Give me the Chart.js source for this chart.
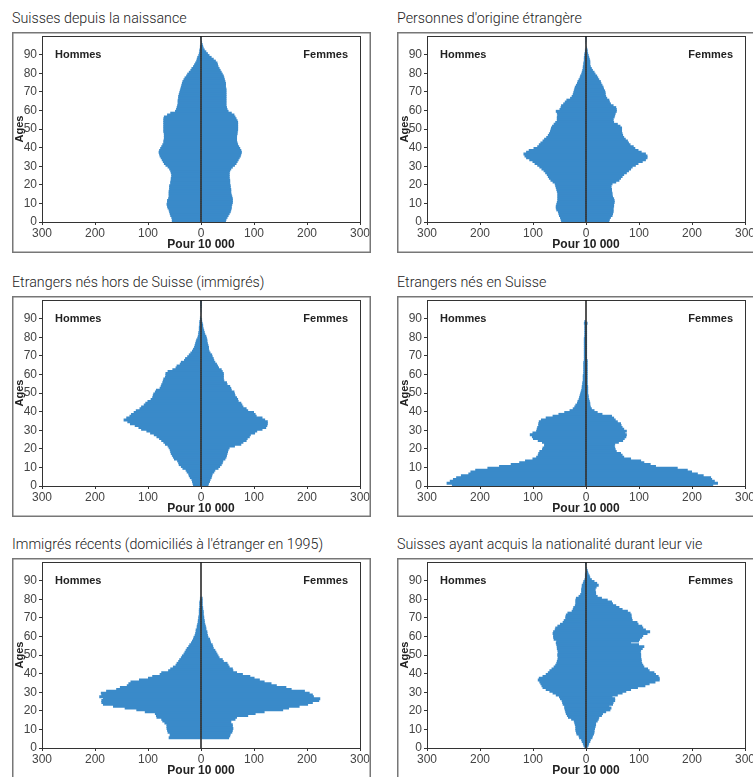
<!DOCTYPE html>
<html><head><meta charset="utf-8">
<script src="https://cdn.jsdelivr.net/npm/chart.js@4.4.1/dist/chart.umd.min.js"></script>
<style>
html,body{margin:0;padding:0;background:#fff;}
body{width:753px;height:777px;overflow:hidden;position:relative;}
.title{position:absolute;font-family:Roboto,"Liberation Sans",sans-serif;font-weight:300;font-size:15.5px;color:#222;white-space:nowrap;line-height:17px;transform:scaleX(0.92);transform-origin:0 0;}
canvas{position:absolute;}
</style></head><body>
<script>
const titles = [
  "Suisses depuis la naissance",
  "Personnes d'origine étrangère",
  "Etrangers nés hors de Suisse (immigrés)",
  "Etrangers nés en Suisse",
  "Immigrés récents (domiciliés à l'étranger en 1995)",
  "Suisses ayant acquis la nationalité durant leur vie"
];
const ages = [0,1,2,3,4,5,6,7,8,9,10,11,12,13,14,15,16,17,18,19,20,21,22,23,24,25,26,27,28,29,30,31,32,33,34,35,36,37,38,39,40,41,42,43,44,45,46,47,48,49,50,51,52,53,54,55,56,57,58,59,60,61,62,63,64,65,66,67,68,69,70,71,72,73,74,75,76,77,78,79,80,81,82,83,84,85,86,87,88,89,90,91,92,93,94,95,96,97,98,99];
const xTickLabels = ["300","200","100","0","100","200","300"];
const sexLabels = ["Hommes","Femmes"];

// Suisses depuis la naissance
const p1Men = [55,55,56,58,59,60,61,63,64,65,64,64,62,61,61,61,61,60,60,60,58,58,57,57,56,56,57,58,60,63,67,70,72,74,76,78,79,80,79,77,75,73,71,71,70,70,70,70,71,71,71,71,71,71,71,71,70,64,58,49,47,46,45,44,44,44,43,43,42,41,40,39,38,37,36,35,33,31,28,26,23,20,18,15,13,11,9,8,7,5,4,3,3,2,2,1,1,1,0.5,0.3];
const p1Women = [47,48,50,52,54,56,57,58,58,59,60,60,60,59,58,57,57,57,56,56,55,55,55,54,54,54,54,55,57,60,64,67,69,71,73,75,76,77,76,74,72,70,69,68,68,68,68,69,69,70,70,70,70,70,69,67,65,63,58,52,50,49,48,48,48,48,48,48,48,48,48,48,47,47,47,46,45,44,43,41,39,37,35,33,32,31,28,24,20,16,13,10,7,5,4,3,2,1.5,1,0.5];
// Personnes d'origine étrangère
const p2Men = [47,48,49,51,52,53,56,57,57,56,55,54,54,54,54,54,55,56,57,58,59,63,67,70,72,74,77,80,84,88,92,97,101,107,113,116,118,113,108,99,92,89,86,82,79,75,72,70,68,67,66,64,61,58,55,55,55,54,55,57,50,48,47,43,40,37,30,27,25,24,23,22,21,19,17,16,14,12,11,9,8,7,6,6,5,5,4,4,4,3,3,2,2,1,1,1,0.5,0.5,0.3,0.2];
const p2Women = [44,45,47,50,51,52,52,52,53,53,54,54,53,51,50,50,49,49,48,48,50,57,63,66,69,72,77,81,85,88,94,99,107,113,116,116,113,105,99,93,90,84,81,79,75,72,70,69,68,68,68,65,60,53,52,52,54,55,56,58,58,57,52,47,45,44,40,38,37,37,36,34,33,31,29,28,25,23,21,18,16,13,11,9,8,8,8,7,6,5,4,3,3,2,1,1,1,0.5,0.5,0.3];
// Etrangers nés hors de Suisse (immigrés)
const p3Men = [15,16,17,18,21,23,24,27,29,35,38,42,43,45,51,53,55,57,58,59,61,63,68,71,75,79,84,89,96,103,113,118,125,134,139,146,141,135,132,127,123,116,113,108,105,101,95,92,91,90,87,85,78,76,75,73,72,71,68,67,67,63,54,48,46,40,38,32,30,26,23,20,17,15,13,12,11,10,9,7,6,5,5,4,4,4,3,3,3,2,2,1,1,1,0.5,0.5,0.3,0.2,0.1,0.1];
const p3Women = [14,15,17,18,20,21,22,25,27,33,36,39,41,42,46,48,49,50,51,52,54,64,76,80,86,88,92,94,102,106,116,123,125,126,126,121,116,105,103,100,89,86,80,78,76,71,70,68,65,64,63,58,57,55,50,49,44,43,43,43,43,41,39,34,32,30,27,25,24,22,21,18,16,15,15,14,13,12,12,11,10,8,7,6,5,4,4,3,2,2,1,1,1,0.5,0.5,0.3,0.2,0.1,0.1,0.1];
// Etrangers nés en Suisse
const p4Men = [253,263,257,251,245,236,222,218,209,186,164,142,126,115,101,94,91,90,88,83,82,79,79,83,91,100,102,106,101,94,93,92,90,90,89,85,76,63,52,41,31,25,22,20,17,16,14,13,12,11,10,9,8,8,7,7,6,6,6,6,5,5,5,5,5,5,5,4,4,4,4,4,4,4,4,4,4,4,4,4,3,3,3,3,3,3,3,4,3,1,0,0,0,0,0,0,0,0,0,0];
const p4Women = [240,249,243,238,236,222,211,200,192,173,132,122,110,104,85,72,69,66,58,56,55,54,55,62,70,73,76,77,74,77,72,69,67,66,60,56,53,49,31,22,16,11,9,8,8,7,6,5,5,4,4,4,4,4,3,3,3,3,3,3,3,3,3,3,3,3,3,3,2,2,2,2,2,2,2,2,2,2,2,2,2,2,2,2,2,2,2,3,1,0,0,0,0,0,0,0,0,0,0,0];
// Immigrés récents (domiciliés à l'étranger en 1995)
const p5Men = [0,0,0,0,0,61,59,59,63,64,65,65,65,69,73,75,84,85,87,106,122,144,166,185,188,188,185,192,188,189,179,160,153,140,137,133,117,100,92,78,75,62,58,53,48,46,43,41,38,36,33,31,29,27,24,22,19,17,15,14,12,11,10,10,8,8,7,6,6,5,5,4,4,4,4,3,3,3,3,2,2,0,0,0,0,0,0,0,0,0,0,0,0,0,0,0,0,0,0,0];
const p5Women = [0,0,0,0,0,53,55,56,59,60,61,60,60,57,57,65,68,89,103,120,155,166,186,202,211,223,225,213,211,205,196,171,161,143,133,120,111,101,93,79,68,61,60,54,52,50,43,41,35,33,31,29,27,24,23,22,19,18,17,14,13,12,12,10,10,9,8,7,7,6,6,5,5,5,4,4,3,3,3,3,3,0,0,0,0,0,0,0,0,0,0,0,0,0,0,0,0,0,0,0];
// Suisses ayant acquis la nationalité durant leur vie
const p6Men = [3,5,6,8,9,13,14,18,19,20,20,20,21,22,23,28,34,36,38,39,40,41,41,44,45,46,49,51,57,63,69,76,82,84,86,88,91,89,82,76,72,69,65,61,58,56,55,54,53,54,54,53,54,55,55,56,57,56,61,62,62,63,62,59,58,54,49,44,42,39,39,38,35,27,25,24,21,20,20,20,19,14,11,9,9,9,8,8,6,5,3,2,2,2,1,1,0.5,0.5,0.2,0.1];
const p6Women = [3,5,6,8,9,12,13,15,16,16,17,18,19,19,22,24,25,30,32,38,46,48,44,51,52,55,55,50,60,69,76,85,98,112,120,131,139,139,137,132,129,120,117,110,108,106,105,105,104,104,104,103,104,107,110,100,85,100,102,106,108,116,121,113,108,106,99,97,88,87,86,86,84,79,69,63,57,51,49,41,30,22,19,19,18,18,20,24,21,16,11,8,7,5,4,3,2,1,1,0.5];

const menSeries = [p1Men,p2Men,p3Men,p4Men,p5Men,p6Men];
const womenSeries = [p1Women,p2Women,p3Women,p4Women,p5Women,p6Women];

const BLUE = "#3a8ac9";
const TICKF = "'Liberation Sans',Arial,sans-serif";
const BOLD = "'Liberation Sans',Arial,sans-serif";
const colX = [12, 397];
const rowY = [32, 296, 558];
const BOX_W = 359, BOX_H = 221;

const framePlugin = {
  id: 'frame',
  afterDraw(chart) {
    const {ctx, chartArea: a, scales} = chart;
    ctx.save();
    ctx.strokeStyle = '#777';
    ctx.lineWidth = 1.5;
    ctx.strokeRect(0.75, 0.75, chart.width - 1.5, chart.height - 1.5);
    ctx.strokeStyle = '#333';
    ctx.lineWidth = 1;
    ctx.strokeRect(Math.round(a.left) + 0.5, Math.round(a.top) + 0.5, Math.round(a.right - a.left), Math.round(a.bottom - a.top));
    const x0 = scales.x.getPixelForValue(0);
    ctx.strokeStyle = '#1b1b1b';
    ctx.lineWidth = 1.5;
    ctx.beginPath();
    ctx.moveTo(x0, a.top);
    ctx.lineTo(x0, a.bottom);
    ctx.stroke();
    const y90 = scales.y.getPixelForValue(90);
    ctx.fillStyle = '#222';
    ctx.font = "bold 11px " + BOLD;
    ctx.textBaseline = 'middle';
    ctx.textAlign = 'left';
    ctx.fillText(sexLabels[0], a.left + 13, y90);
    ctx.textAlign = 'right';
    ctx.fillText(sexLabels[1], a.right - 12, y90);
    ctx.restore();
  }
};

Chart.defaults.font.family = TICKF;

for (let i = 0; i < 6; i++) {
  const left = colX[i % 2], top = rowY[Math.floor(i / 2)];
  const t = document.createElement('div');
  t.className = 'title';
  t.textContent = titles[i];
  t.style.left = left + 'px';
  t.style.top = (top - 22) + 'px';
  document.body.appendChild(t);

  const cv = document.createElement('canvas');
  cv.width = BOX_W; cv.height = BOX_H;
  cv.style.left = left + 'px'; cv.style.top = top + 'px';
  cv.style.width = BOX_W + 'px'; cv.style.height = BOX_H + 'px';
  document.body.appendChild(cv);

  const men = menSeries[i], women = womenSeries[i];
  new Chart(cv, {
    type: 'bar',
    data: {
      datasets: [
        { label: sexLabels[0], data: ages.map((a, k) => ({ x: -men[k], y: a + 0.5 })), backgroundColor: BLUE, borderWidth: 0 },
        { label: sexLabels[1], data: ages.map((a, k) => ({ x: women[k], y: a + 0.5 })), backgroundColor: BLUE, borderWidth: 0 }
      ]
    },
    options: {
      indexAxis: 'y',
      responsive: false,
      animation: false,
      devicePixelRatio: 1,
      datasets: { bar: { grouped: false, barPercentage: 1.6, categoryPercentage: 1 } },
      layout: { padding: { top: 4, right: 11, left: 0, bottom: 0 } },
      plugins: { legend: { display: false }, tooltip: { enabled: false } },
      scales: {
        x: {
          type: 'linear', min: -300, max: 300, offset: false,
          ticks: { stepSize: 100, autoSkip: false, maxRotation: 0, padding: 1, color: '#444', font: { size: 12, family: TICKF },
                   callback: (v, idx) => xTickLabels[idx] },
          grid: { drawOnChartArea: false, tickLength: 3, color: '#333', offset: false },
          border: { color: '#333' },
          title: { display: true, text: 'Pour 10 000', color: '#222', font: { size: 12, weight: 'bold', family: BOLD }, padding: { top: 0, bottom: 1 } },
          afterFit: s => { s.height = 31; s.paddingLeft = 0; s.paddingRight = 0; }
        },
        y: {
          type: 'linear', min: 0, max: 100, offset: false,
          ticks: { stepSize: 10, autoSkip: false, padding: 2, color: '#444', font: { size: 12, family: TICKF },
                   callback: v => (v <= 90 ? String(v) : null) },
          grid: { drawOnChartArea: false, tickLength: 3, color: '#333', offset: false },
          border: { color: '#333' },
          title: { display: true, text: 'Ages', color: '#222', font: { size: 11, weight: 'bold', family: BOLD }, padding: { top: 1, bottom: 0 } },
          afterFit: s => { s.width = 30; s.paddingTop = 0; s.paddingBottom = 0; }
        }
      }
    },
    plugins: [framePlugin]
  });
}
</script>
</body></html>
